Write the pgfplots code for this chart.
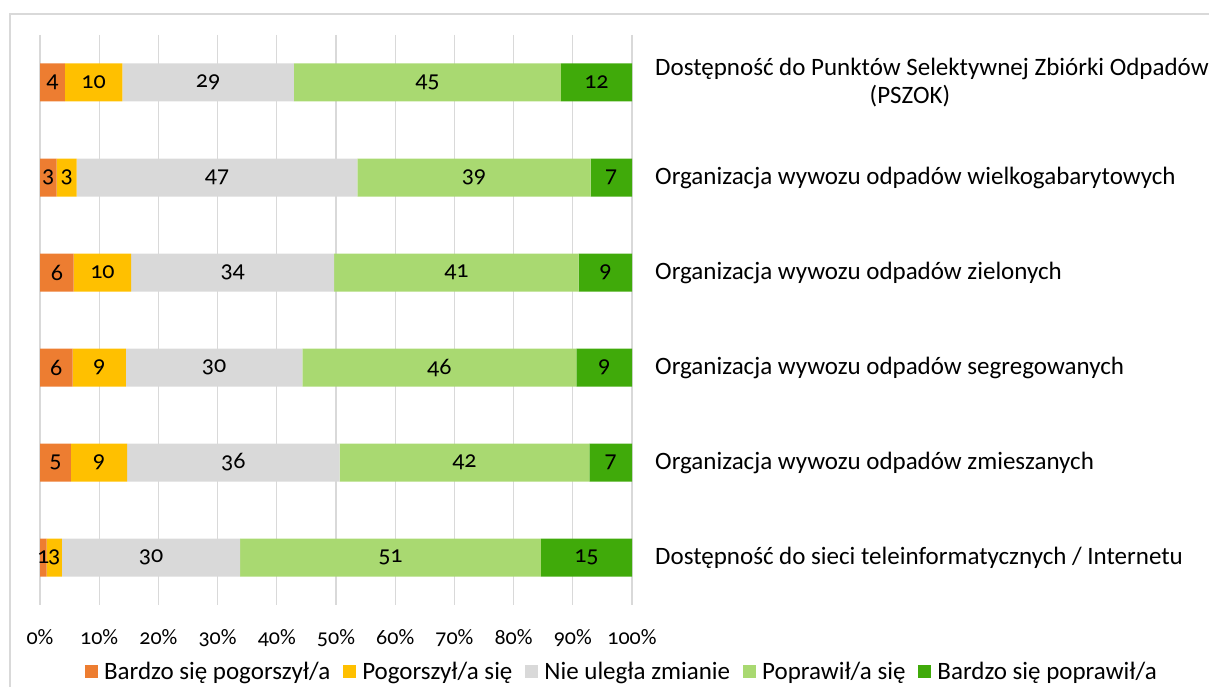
\documentclass[border=0pt]{standalone}
\usepackage{pgfplots}
\pgfplotsset{compat=1.18}
\usepackage{pgfplotstable}
\usepackage{fontspec}
\setmainfont{Carlito}[Numbers=OldStyle]
\definecolor{c1}{HTML}{ED7D31}
\definecolor{c2}{HTML}{FFC000}
\definecolor{c3}{HTML}{D9D9D9}
\definecolor{c4}{HTML}{A9D971}
\definecolor{c5}{HTML}{40AA0A}
\definecolor{gridc}{HTML}{D9D9D9}
\pgfplotstableread{
y a b c d e la lb lc ld le
1 4.2 9.7 29.0 45.1 12.0 4 10 29 45 12
2 2.8 3.4 47.4 39.4 7.0 3 3 47 39 7
3 5.7 9.7 34.3 41.3 9.0 6 10 34 41 9
4 5.5 9.0 29.8 46.3 9.4 6 9 30 46 9
5 5.2 9.5 35.9 42.2 7.2 5 9 36 42 7
6 1.1 2.6 30.1 50.8 15.4 1 3 30 51 15
}\data
\newcommand{\fs}{\fontsize{25}{28.5}\selectfont}
\newcommand{\fl}{\fontsize{25}{28}\selectfont}
\newcommand{\fd}{\fontsize{24}{28}\selectfont}
\newcommand{\ft}{\fontsize{22}{26}\selectfont}
\begin{document}
\begin{tikzpicture}
\draw[gridc, line width=1.5pt] (10pt,-20pt) -- (10pt,673pt) -- (1240pt,673pt);
\begin{axis}[
  at={(40pt,82pt)}, anchor=south west, scale only axis,
  width=592pt, height=570pt,
  xmin=0, xmax=100, ymin=0.5, ymax=6.5, y dir=reverse,
  xbar stacked, bar width=38pt,
  axis line style={draw=none}, tick style={draw=none},
  xmajorgrids, grid style={gridc, line width=1.1pt},
  xtick={0,10,...,100},
  xticklabels={0\%,10\%,20\%,30\%,40\%,50\%,60\%,70\%,80\%,90\%,100\%},
  xticklabel style={font=\ft, inner sep=0pt, yshift=-24pt},
  ytick={1,...,6},
  yticklabels={{Dostępność do Punktów Selektywnej Zbiórki Odpadów\\\hspace*{-44pt}(PSZOK)},
    {Organizacja wywozu odpadów wielkogabarytowych},
    {Organizacja wywozu odpadów zielonych},
    {Organizacja wywozu odpadów segregowanych},
    {Organizacja wywozu odpadów zmieszanych},
    {Dostępność do sieci teleinformatycznych / Internetu}},
  yticklabel pos=right,
  yticklabel style={font=\fs, anchor=west, align=center, inner sep=0pt, xshift=23pt},
  legend columns=5,
  legend style={at={(0.983,-0.1175)}, anchor=center, draw=none, font=\fl,
    /tikz/every odd column/.append style={column sep=4pt},
    /tikz/every even column/.append style={column sep=11pt}},
  legend image code/.code={\fill[#1] (0pt,-6.5pt) rectangle (13pt,6.5pt);},
]
\addplot[fill=c1, draw=none] table[x=a, y=y] {\data};
\addplot[fill=c2, draw=none] table[x=b, y=y] {\data};
\addplot[fill=c3, draw=none] table[x=c, y=y] {\data};
\addplot[fill=c4, draw=none] table[x=d, y=y] {\data};
\addplot[fill=c5, draw=none] table[x=e, y=y] {\data};
\legend{Bardzo się pogorszył/a, Pogorszył/a się, Nie uległa zmianie, Poprawił/a się, Bardzo się poprawił/a}
\end{axis}
\begin{axis}[
  at={(40pt,82pt)}, anchor=south west, scale only axis,
  width=592pt, height=570pt,
  xmin=0, xmax=100, ymin=0.5, ymax=6.5, y dir=reverse,
  hide axis, clip=false,
  nodes near coords, point meta=explicit symbolic,
  every node near coord/.style={anchor=center, font=\fd, inner sep=0pt, text=black},
]
\addplot[draw=none] table[x expr=\thisrow{a}/2, y=y, meta=la] {\data};
\addplot[draw=none] table[x expr=\thisrow{a}+\thisrow{b}/2, y=y, meta=lb] {\data};
\addplot[draw=none] table[x expr=\thisrow{a}+\thisrow{b}+\thisrow{c}/2, y=y, meta=lc] {\data};
\addplot[draw=none] table[x expr=\thisrow{a}+\thisrow{b}+\thisrow{c}+\thisrow{d}/2, y=y, meta=ld] {\data};
\addplot[draw=none] table[x expr=\thisrow{a}+\thisrow{b}+\thisrow{c}+\thisrow{d}+\thisrow{e}/2, y=y, meta=le] {\data};
\end{axis}
\pgfresetboundingbox
\useasboundingbox (0pt,0pt) rectangle (1209pt,687pt);
\end{tikzpicture}
\end{document}
